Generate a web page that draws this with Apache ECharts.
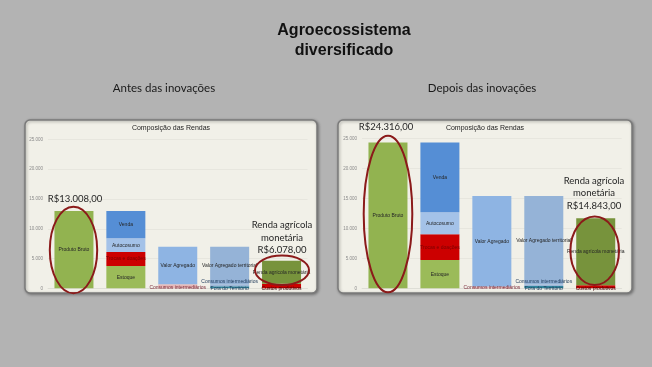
<!DOCTYPE html>
<html><head><meta charset="utf-8">
<script src="https://cdn.jsdelivr.net/npm/echarts@6/dist/echarts.min.js"></script>
<style>html,body{margin:0;padding:0;background:#b3b3b3}#c{width:652px;height:367px}</style>
</head><body><div id="c"></div>
<script>
// categories (5 bars per chart)
const categories = ['Produto Bruto','Composição','Valor Agregado','Valor Agregado territorial','Renda agrícola monetária'];
const yTicks = [0, 5000, 10000, 15000, 20000, 25000];

// "Antes das inovações"
const antesProdutoBruto = [13008, null, null, null, null];
const antesEstoque      = [null, 3740, null, null, null];
const antesTrocas       = [null, 2350, null, null, null];
const antesAutoconsumo  = [null, 2300, null, null, null];
const antesVenda        = [null, 4618, null, null, null];
const antesCI           = [null, null, 700, null, null];
const antesVA           = [null, null, 6290, null, null];
const antesFora         = [null, null, null, 350, null];
const antesCIterr       = [null, null, null, 350, null];
const antesVAT          = [null, null, null, 6290, null];
const antesCustos       = [null, null, null, null, 750];
const antesRenda        = [null, null, null, null, 3890];

// "Depois das inovações"
const depoisProdutoBruto = [24316, null, null, null, null];
const depoisEstoque      = [null, 4717, null, null, null];
const depoisTrocas       = [null, 4283, null, null, null];
const depoisAutoconsumo  = [null, 3667, null, null, null];
const depoisVenda        = [null, 11649, null, null, null];
const depoisCI           = [null, null, 300, null, null];
const depoisVA           = [null, null, 15080, null, null];
const depoisFora         = [null, null, null, 400, null];
const depoisCIterr       = [null, null, null, 250, null];
const depoisVAT          = [null, null, null, 14730, null];
const depoisCustos       = [null, null, null, null, 500];
const depoisRenda        = [null, null, null, null, 11170];

const chart = echarts.init(document.getElementById('c'));
const fmt = v => v === 0 ? '0' : String(v).replace(/\B(?=(\d{3})+(?!\d))/g, '.');

function seg(idx, stack, name, data, color, labelText, lab) {
  return {
    type: 'bar', name, xAxisIndex: idx, yAxisIndex: idx, stack, data,
    barWidth: 39, itemStyle: { color },
    label: Object.assign({
      show: true, position: 'inside', formatter: labelText,
      fontSize: 5, color: '#262626', fontFamily: 'Liberation Sans'
    }, lab || {}),
    emphasis: { disabled: true }, animation: false
  };
}

function seriesFor(idx, d) {
  const s = 's' + idx;
  return [
    seg(idx, s, 'Produto Bruto', d.pb, '#92b350', 'Produto Bruto'),
    seg(idx, s, 'Estoque', d.est, '#9bbb59', 'Estoque'),
    seg(idx, s, 'Trocas e doações', d.tro, '#cc0000', 'Trocas e doações', { color: '#7a0000' }),
    seg(idx, s, 'Autoconsumo', d.aut, '#a4c2e8', 'Autocosumo'),
    seg(idx, s, 'Venda', d.ven, '#558ed5', 'Venda'),
    seg(idx, s, 'Consumos intermediários', d.ci, '#e6b9b8', 'Consumos intermediários', { position: 'insideBottom', distance: 0, offset: [0, 2], color: '#7a2a3a' }),
    seg(idx, s, 'Valor Agregado', d.va, '#8eb4e3', 'Valor Agregado'),
    seg(idx, s, 'Fora do Território', d.fora, '#31859c', 'Fora do Território', { position: 'insideBottom', distance: 0, offset: [0, 3], color: '#1f3a5a' }),
    seg(idx, s, 'Consumos intermediários territ', d.ciT, '#9db8d9', 'Consumos intermediários', { position: 'top', distance: 0, color: '#1f3a5a' }),
    seg(idx, s, 'Valor Agregado territorial', d.vat, '#95b3d7', 'Valor Agregado territorial'),
    seg(idx, s, 'Custos produtivos', d.cus, '#cc0000', 'Custos produtivos', { position: 'insideBottom', distance: 0, offset: [0, 3], color: '#3a0000' }),
    seg(idx, s, 'Renda agrícola monetária', d.ren, '#77933c', 'Renda agrícola monetária')
  ];
}

const axisY = idx => ({
  type: 'value', gridIndex: idx, min: 0, max: 25000, interval: 5000,
  axisLine: { show: false }, axisTick: { show: false },
  axisLabel: { fontSize: 4.5, color: '#8a8a8a', margin: 5, formatter: fmt, fontFamily: 'Liberation Sans' },
  splitLine: { lineStyle: { color: '#e0dfd6', width: 0.6 } }
});
const axisX = idx => ({
  type: 'category', gridIndex: idx, data: categories,
  axisLine: { lineStyle: { color: '#d8d8d0', width: 0.6 } },
  axisTick: { show: false }, axisLabel: { show: false }
});

const T = { fontFamily: 'Open Sans', fill: '#262626' };
const txt = (x, y, text, size, extra) => ({
  type: 'text', x, y, z: 100,
  style: Object.assign({ text, fontSize: size, fontFamily: T.fontFamily, fill: T.fill, textAlign: 'center', textVerticalAlign: 'middle' }, extra || {})
});
const ell = (cx, cy, rx, ry) => ({
  type: 'ellipse', z: 100, shape: { cx, cy, rx, ry },
  style: { fill: 'none', stroke: '#8b1a1a', lineWidth: 2 }
});
const panel = (x, y, w, h) => ({
  type: 'rect', z: -10, shape: { x, y, width: w, height: h, r: 5 },
  style: { fill: '#f1f0e8', stroke: '#7a7a7a', lineWidth: 1.5, shadowBlur: 3, shadowOffsetX: 1, shadowOffsetY: 1, shadowColor: 'rgba(0,0,0,0.35)' }
});

chart.setOption({
  backgroundColor: '#b3b3b3',
  animation: false,
  grid: [
    { left: 48, top: 139.5, width: 259.5, height: 148.8 },
    { left: 362, top: 138.3, width: 259.7, height: 150 }
  ],
  xAxis: [axisX(0), axisX(1)],
  yAxis: [axisY(0), axisY(1)],
  graphic: [
    panel(25, 120, 292, 173),
    panel(338, 120, 294, 173),
    txt(344, 31, 'Agroecossistema', 16, { fontFamily: 'Liberation Sans', fontWeight: 'bold', fill: '#111' }),
    txt(344, 51, 'diversificado', 16, { fontFamily: 'Liberation Sans', fontWeight: 'bold', fill: '#111' }),
    txt(164, 88, 'Antes das inovações', 11.5, { fontFamily: 'Lato', fill: '#1a1a1a' }),
    txt(482, 88, 'Depois das inovações', 11.5, { fontFamily: 'Lato', fill: '#1a1a1a' }),
    txt(171, 128, 'Composição das Rendas', 7, { fontFamily: 'Liberation Sans', fill: '#222' }),
    txt(485, 128, 'Composição das Rendas', 7, { fontFamily: 'Liberation Sans', fill: '#222' }),
    txt(75, 198.5, 'R$13.008,00', 9.5, { fontFamily: 'Lato' }),
    txt(386, 126.5, 'R$24.316,00', 9.5, { fontFamily: 'Lato' }),
    txt(282, 225, 'Renda agrícola', 9.5, { fontFamily: 'Lato' }),
    txt(282, 237.5, 'monetária', 9.5, { fontFamily: 'Lato' }),
    txt(282, 250, 'R$6.078,00', 9.5, { fontFamily: 'Lato' }),
    txt(594, 181, 'Renda agrícola', 9.5, { fontFamily: 'Lato' }),
    txt(594, 193, 'monetária', 9.5, { fontFamily: 'Lato' }),
    txt(594, 206, 'R$14.843,00', 9.5, { fontFamily: 'Lato' }),
    ell(73.5, 250, 23.7, 43.3),
    ell(282, 270.3, 27, 14.7),
    ell(388, 214, 24.3, 78.3),
    ell(594.7, 250.8, 24.3, 34.2)
  ],
  series: [
    ...seriesFor(0, { pb: antesProdutoBruto, est: antesEstoque, tro: antesTrocas, aut: antesAutoconsumo, ven: antesVenda, ci: antesCI, va: antesVA, fora: antesFora, ciT: antesCIterr, vat: antesVAT, cus: antesCustos, ren: antesRenda }),
    ...seriesFor(1, { pb: depoisProdutoBruto, est: depoisEstoque, tro: depoisTrocas, aut: depoisAutoconsumo, ven: depoisVenda, ci: depoisCI, va: depoisVA, fora: depoisFora, ciT: depoisCIterr, vat: depoisVAT, cus: depoisCustos, ren: depoisRenda })
  ]
});
</script></body></html>
